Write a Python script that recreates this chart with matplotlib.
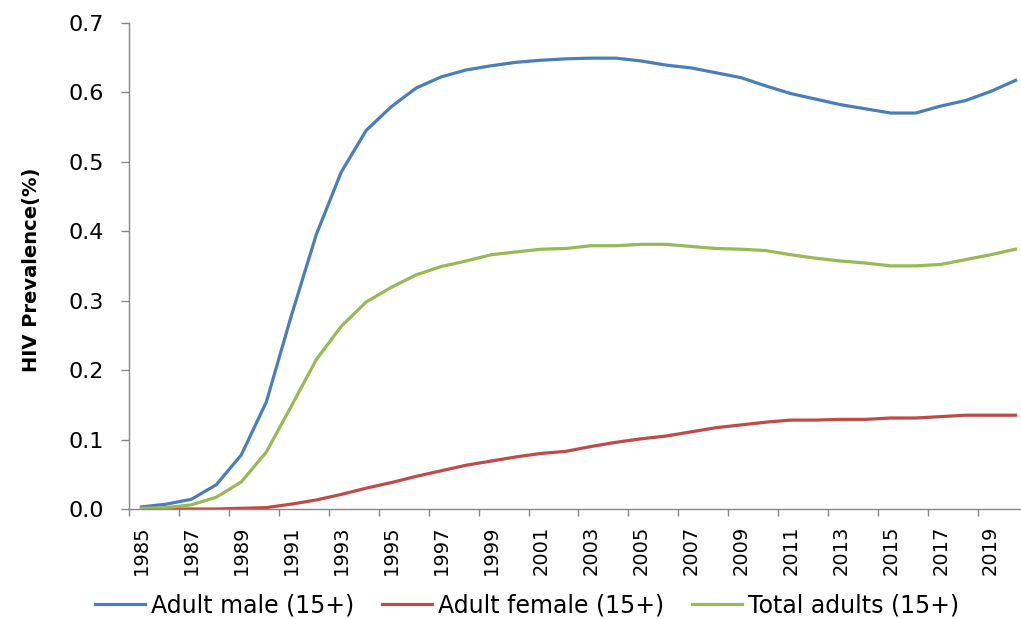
import matplotlib
matplotlib.use('Agg')
import matplotlib.pyplot as plt
from matplotlib.ticker import FixedLocator, FormatStrFormatter

plt.rcParams['font.family'] = ['DejaVu Sans']

years = list(range(1985, 2021))

male = [0.003, 0.007, 0.014, 0.035, 0.078, 0.154, 0.278, 0.395, 0.485, 0.545,
        0.579, 0.606, 0.622, 0.632, 0.638, 0.643, 0.646, 0.648, 0.649, 0.649,
        0.645, 0.639, 0.635, 0.628, 0.621, 0.609, 0.598, 0.590, 0.582, 0.576,
        0.570, 0.570, 0.580, 0.588, 0.601, 0.617]

female = [0.000, 0.000, 0.000, 0.000, 0.001, 0.002, 0.007, 0.013, 0.021, 0.030,
          0.038, 0.047, 0.055, 0.063, 0.069, 0.075, 0.080, 0.083, 0.090, 0.096,
          0.101, 0.105, 0.111, 0.117, 0.121, 0.125, 0.128, 0.128, 0.129, 0.129,
          0.131, 0.131, 0.133, 0.135, 0.135, 0.135]

total = [0.001, 0.002, 0.006, 0.017, 0.039, 0.082, 0.148, 0.215, 0.263, 0.298,
         0.319, 0.337, 0.349, 0.357, 0.366, 0.370, 0.374, 0.375, 0.379, 0.379,
         0.381, 0.381, 0.378, 0.375, 0.374, 0.372, 0.366, 0.361, 0.357, 0.354,
         0.350, 0.350, 0.352, 0.359, 0.366, 0.374]

labels = ['Adult male (15+)', 'Adult female (15+)', 'Total adults (15+)']
colors = ['#4A7EBB', '#BE4B48', '#98B954']

fig = plt.figure(figsize=(10.21, 6.19), dpi=100)
# axes runs a little past the right edge, like the cropped original
ax = fig.add_axes([0.1263, 0.1777, 0.8806, 0.7856])

for ys, lab, col in zip([male, female, total], labels, colors):
    ax.plot(years, ys, color=col, lw=2.3, label=lab, solid_joinstyle='round')

ax.set_xlim(years[0] - 0.5, years[-1] + 0.5)
ax.set_ylim(0, 0.7)

gray = '#868686'
for side in ['top', 'right']:
    ax.spines[side].set_visible(False)
for side in ['left', 'bottom']:
    ax.spines[side].set_color(gray)
    ax.spines[side].set_linewidth(1.0)

# labels every other year, tick marks between categories
ax.xaxis.set_major_locator(FixedLocator(years[::2]))
ax.xaxis.set_minor_locator(FixedLocator([y - 0.5 for y in years[::2]]))
ax.tick_params(axis='x', which='major', length=0, pad=12, labelsize=14, rotation=90)
ax.tick_params(axis='x', which='minor', length=5, width=1.0, color=gray)

ax.set_yticks([0, 0.1, 0.2, 0.3, 0.4, 0.5, 0.6, 0.7])
ax.yaxis.set_major_formatter(FormatStrFormatter('%.1f'))
ax.tick_params(axis='y', length=6, width=1.0, color=gray, pad=12, labelsize=16)

fig.text(32 / 1021, 1 - 270 / 619, 'HIV Prevalence(%)', rotation=90,
         ha='center', va='center', fontsize=14, fontweight='bold')

fig.legend(loc='center', bbox_to_anchor=(527 / 1021, 14 / 619), ncol=3,
           frameon=False, fontsize=17, handlelength=2.1, handletextpad=0.25,
           columnspacing=1.2, borderaxespad=0)

fig.savefig('out.png', dpi=100, facecolor='white')
